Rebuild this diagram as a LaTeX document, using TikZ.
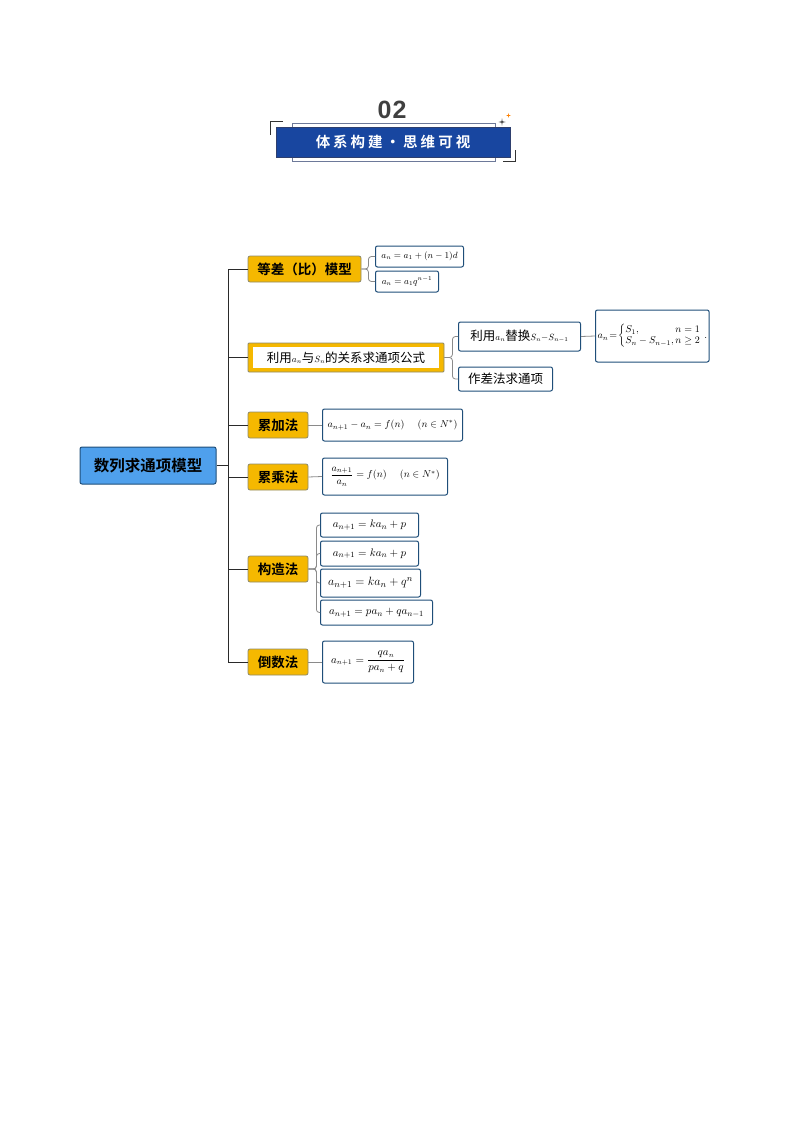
\documentclass[tikz,border=0pt]{standalone}
\usepackage{fontspec}
\usepackage{amsmath,amssymb}
\newfontfamily\cjk{Noto Sans CJK SC}
\newfontfamily\cjkb{Noto Sans CJK SC Bold}
\setsansfont{Liberation Sans}
\definecolor{gold}{HTML}{F5B800}
\definecolor{goldbd}{HTML}{8E8A6A}
\definecolor{bluebd}{HTML}{1F4E79}
\definecolor{rootfill}{HTML}{4FA0EC}
\definecolor{banner}{HTML}{1846A0}
\definecolor{bannerbd}{HTML}{2E3F6E}
\definecolor{linegray}{HTML}{8A8A8A}
\definecolor{spinec}{HTML}{2A2A2A}
\begin{document}
\begin{tikzpicture}[x=1pt,y=-1pt,
  lone/.style={draw=goldbd,fill=gold,rounded corners=2pt,line width=0.8pt,
    font=\cjkb\fontsize{13.5}{15}\selectfont,minimum height=26pt,inner xsep=6pt},
  ltwo/.style={draw=bluebd,fill=white,rounded corners=2pt,line width=1pt,
    inner xsep=4pt,anchor=west},
  spine/.style={draw=spinec,line width=0.9pt},
  brk/.style={draw=linegray,line width=0.8pt,rounded corners=3pt},
  lnk/.style={draw=linegray,line width=0.8pt}]
\useasboundingbox (0,0) rectangle (794,1123);

% ---- header ----
\node[font=\sffamily\bfseries\fontsize{25}{28}\selectfont,text=black!75] (num) at (392,110) {0\kern1pt2};
\draw[draw=bannerbd!70,line width=0.6pt,fill=white] (292,123) rectangle (495,161);
\node[fill=banner,draw=bannerbd,line width=0.6pt,minimum width=234pt,minimum height=30pt,inner sep=0pt,
  text=white,font=\cjkb\fontsize{14.5}{16}\selectfont] (ban) at (393,142) {体\kern3pt 系\kern3pt 构\kern3pt 建\kern3pt ·\kern3pt 思\kern3pt 维\kern3pt 可\kern3pt 视};
\draw[black!80,line width=1pt] (283,122) -- (270,122) -- (270,135);
\draw[black!80,line width=1pt] (503,162) -- (515,162) -- (515,150);
\coordinate (st1) at (502,122);
\coordinate (st2) at (508.5,115.5);
\fill[black!80] (st1) ++(-3.5,0) -- ++(3,-0.7) -- ++(0.5,-3) -- ++(0.5,3) -- ++(3,0.7) -- ++(-3,0.7) -- ++(-0.5,3) -- ++(-0.5,-3) -- cycle;
\fill[orange] (st2) ++(-2.5,0) -- ++(2.1,-0.5) -- ++(0.4,-2) -- ++(0.4,2) -- ++(2.1,0.5) -- ++(-2.1,0.5) -- ++(-0.4,2) -- ++(-0.4,-2) -- cycle;

% ---- root ----
\node[draw=bluebd,fill=rootfill,rounded corners=2pt,line width=1pt,minimum width=136pt,minimum height=37pt,
  font=\cjkb\fontsize{15.5}{17}\selectfont] (root) at (148,465.5) {数列求通项模型};
\coordinate (sp) at (228,465.5);

% ---- level 1 ----
\node[lone,minimum width=113pt] (a) at (304.5,269) {等差（比）模型};
\node[draw=goldbd,fill=gold,rounded corners=1pt,line width=0.8pt,minimum width=196pt,minimum height=29pt] (b) at (346,357.5) {};
\node[fill=white,minimum width=186pt,minimum height=21pt,inner sep=0pt,font=\cjk\fontsize{12.5}{14}\selectfont] (bt) at (b.center)
  {利用$\scriptstyle a_n$与$\scriptstyle S_n$的关系求通项公式};
\node[lone,minimum width=60pt] (c) at (278,425) {累加法};
\node[lone,minimum width=60pt] (d) at (278,477) {累乘法};
\node[lone,minimum width=60pt] (e) at (278,569) {构造法};
\node[lone,minimum width=60pt] (f) at (278,662) {倒数法};

\draw[spine] (root.east) -- (sp);
\draw[spine] (sp |- a.west) -- (sp |- f.west);
\foreach \n in {a,b,c,d,e,f} \draw[spine] (sp |- \n.west) -- (\n.west);

% ---- level 2 ----
\node[ltwo,minimum width=88pt,minimum height=21pt,font=\fontsize{9}{10}\selectfont] (a1) at (375,256.5) {$a_n=a_1+(n-1)d$};
\node[ltwo,minimum width=63pt,minimum height=21pt,font=\fontsize{9}{10}\selectfont] (a2) at (375,281.5) {$a_n=a_1q^{n-1}$};
\draw[brk] (a.east) -- ++(7,0) |- (a1.west);
\draw[brk] (a.east) -- ++(7,0) |- (a2.west);

\node[ltwo,minimum width=122pt,minimum height=29pt,font=\cjk\fontsize{12.5}{14}\selectfont] (b1) at (458,336.5) {利用$\scriptstyle a_n$替换$\scriptstyle S_n-S_{n-1}$};
\node[ltwo,minimum width=94pt,minimum height=24pt,font=\cjk\fontsize{12.5}{14}\selectfont] (b2) at (458,379) {作差法求通项};
\draw[brk] (b.east) -- ++(8,0) |- (b1.west);
\draw[brk] (b.east) -- ++(8,0) |- (b2.west);

\node[ltwo,minimum width=112pt,minimum height=52pt,inner xsep=2pt,font=\fontsize{9.6}{11}\selectfont] (b3) at (595,336)
  {$a_n\!=\!\left\{\begin{array}{@{}l@{\,}r@{}}S_1, & n=1\\ S_n-S_{n-1}, & n\ge 2\end{array}\right.\,.$};
\draw[lnk] (b1.east) -- (b3.west);

\node[ltwo,minimum width=140pt,minimum height=32pt,font=\fontsize{10}{11}\selectfont] (c1) at (322,425)
  {$a_{n+1}-a_n=f(n)\quad\ (n\in N^{*})$};
\draw[lnk] (c.east) -- (c1.west);

\node[ltwo,minimum width=125pt,minimum height=37pt,font=\fontsize{10}{11}\selectfont] (d1) at (322,476.5)
  {$\dfrac{a_{n+1}}{a_n}=f(n)\quad\ (n\in N^{*})$};
\draw[lnk] (d.east) -- (d1.west);

\node[ltwo,minimum width=98pt,minimum height=24pt,font=\fontsize{11}{12}\selectfont] (e1) at (320,525) {$a_{n+1}=ka_n+p$};
\node[ltwo,minimum width=98pt,minimum height=25pt,font=\fontsize{11}{12}\selectfont] (e2) at (320,553.5) {$a_{n+1}=ka_n+p$};
\node[ltwo,minimum width=100pt,minimum height=28pt,font=\fontsize{12.5}{13}\selectfont] (e3) at (320,583) {$a_{n+1}=ka_n+q^n$};
\node[ltwo,minimum width=112pt,minimum height=25pt,font=\fontsize{11}{12}\selectfont] (e4) at (320,612.5) {$a_{n+1}=pa_n+qa_{n-1}$};
\foreach \k in {e1,e2,e3,e4} \draw[brk] (e.east) -- ++(8,0) |- (\k.west);

\node[ltwo,minimum width=91pt,minimum height=42pt,font=\fontsize{10.5}{12}\selectfont] (f1) at (322,662)
  {$a_{n+1}=\dfrac{qa_n}{pa_n+q}$};
\draw[lnk] (f.east) -- (f1.west);
\end{tikzpicture}
\end{document}
